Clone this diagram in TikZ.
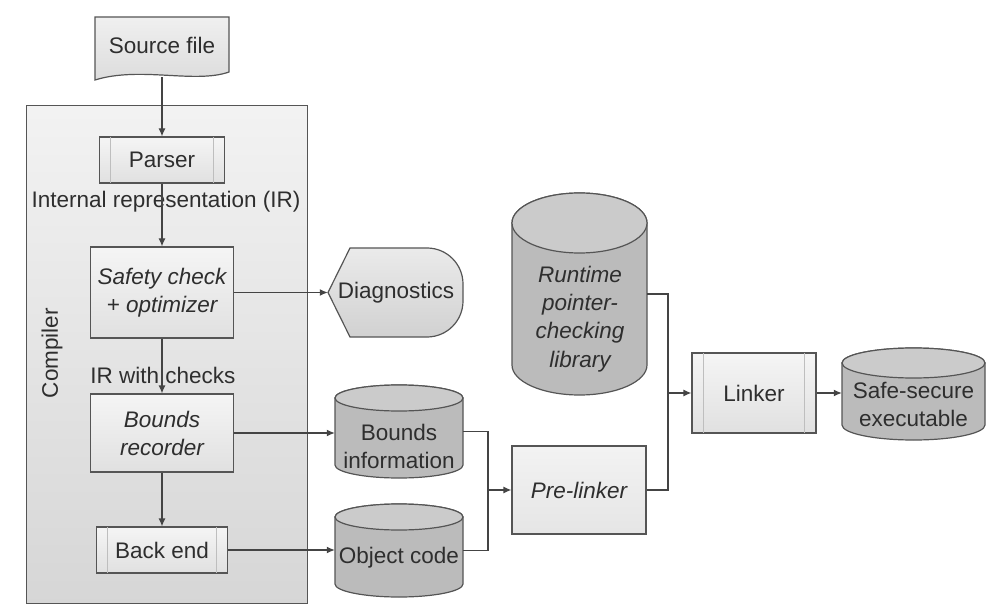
\documentclass[tikz,border=0pt]{standalone}
\usepackage{fontspec}
\setmainfont{Liberation Sans}
\usetikzlibrary{arrows.meta,calc}
\definecolor{txt}{HTML}{2E2E2E}
\definecolor{edge}{HTML}{555555}
\definecolor{conncol}{HTML}{444444}
\definecolor{cylbody}{HTML}{BBBBBB}
\definecolor{cyltop}{HTML}{CBCBCB}
\definecolor{innerln}{HTML}{BEBEBE}
\newcommand\mycyl[5]{%
  \pgfmathsetmacro\cxr{(#3-#1)/2}%
  \path[cylb] (#1,#4-#5) -- (#1,#2+#5) arc[start angle=180,end angle=360,x radius=\cxr,y radius=#5] -- (#3,#4-#5) arc[start angle=0,end angle=180,x radius=\cxr,y radius=#5] -- cycle;
  \path[cylt] ({(#1+#3)/2},#4-#5) ellipse[x radius=\cxr,y radius=#5];
}
\begin{document}
\begin{tikzpicture}[x=1pt,y=1pt,
  font=\fontsize{22.5}{28}\selectfont, text=txt,
  proc/.style={draw=edge, line width=1.2pt, top color=gray!8, bottom color=gray!24, align=center, inner sep=0pt},
  ghost/.style={draw=none, inner sep=0pt},
  lbl/.style={align=center, inner sep=0pt},
  cylb/.style={fill=cylbody, draw=edge, line width=1.2pt},
  cylt/.style={fill=cyltop, draw=edge, line width=1.2pt},
  conn/.style={draw=conncol, line width=1.2pt},
  arr/.style={conn, -{Latex[length=8pt,width=7pt]}},
  innerl/.style={draw=innerln, line width=0.9pt}]
\useasboundingbox (0,0) rectangle (1006,614);

% compiler frame
\node[draw=edge, line width=1.2pt, top color=gray!10, bottom color=gray!32, minimum width=281, minimum height=498, anchor=south west, inner sep=0pt] (compiler) at (26,10) {};
\node[rotate=90, lbl] (clabel) at (52,261) {Compiler};

% source file (document shape)
\path[draw=edge, line width=1.2pt, top color=gray!12, bottom color=gray!28]
  (95,597) -- (229,597) -- (229,542) .. controls (195,530) and (140,548) .. (95,534) -- cycle;
\node[ghost, minimum width=134, minimum height=60] (src) at (162,567) {};
\node[lbl] (srctext) at (162,569) {Source file};

% compiler stages
\node[proc, minimum width=125, minimum height=46] (parser) at (162,454) {Parser};
\node[proc, minimum width=143, minimum height=91, font=\fontsize{22.5}{28}\selectfont\itshape] (safety) at (162,321.5) {Safety check\\+ optimizer};
\node[proc, minimum width=143, minimum height=78, font=\fontsize{22.5}{28}\selectfont\itshape] (brec) at (162,181) {Bounds\\recorder};
\node[proc, minimum width=131, minimum height=46] (backend) at (162,64) {Back end};
\node[lbl] (irl) at (166,412) {Internal representation (IR)};
\node[lbl] (irc) at (163,239) {IR with checks};

% diagnostics (display shape)
\path[draw=edge, line width=1.2pt, top color=gray!16, bottom color=gray!36]
  (328,321.5) -- (350,366) -- (427,366) arc[start angle=90,end angle=0,radius=36] -- (463,313) arc[start angle=0,end angle=-90,radius=36] -- (350,277) -- cycle;
\node[ghost, minimum width=135, minimum height=89] (diag) at (395.5,321.5) {};
\node[lbl] (diagtext) at (396,321) {Diagnostics};

% cylinders
\mycyl{335}{136}{463}{229}{13}
\node[ghost, minimum width=128, minimum height=93] (binfo) at (399,182.5) {};
\node[lbl] (binfotext) at (399,168) {Bounds\\information};

\mycyl{335}{17}{463}{110}{13}
\node[ghost, minimum width=128, minimum height=93] (ocode) at (399,63.5) {};
\node[lbl] (ocodetext) at (399,56) {Object code};

\mycyl{512}{219}{647}{421}{30}
\node[ghost, minimum width=135, minimum height=202] (rtlib) at (579.5,320) {};
\node[lbl, font=\fontsize{22.5}{28.3}\selectfont\itshape] (rtlibtext) at (580,295) {Runtime\\pointer-\\checking\\library};

\mycyl{842}{174}{985}{266}{15}
\node[ghost, minimum width=143, minimum height=92] (safe) at (913.5,220) {};
\node[lbl] (safetext) at (913.5,210) {Safe-secure\\executable};

% pre-linker and linker
\node[proc, minimum width=134, minimum height=88, top color=gray!10, bottom color=gray!20, font=\fontsize{22.5}{28}\selectfont\itshape] (prelink) at (579,124) {Pre-linker};
\node[proc, minimum width=124, minimum height=80] (linker) at (754,221) {Linker};

% inner lines of predefined-process boxes
\foreach \n in {parser,backend,linker}{
  \draw[innerl] ([xshift=12pt,yshift=-1pt]\n.north west) -- ([xshift=12pt,yshift=1pt]\n.south west);
  \draw[innerl] ([xshift=-12pt,yshift=-1pt]\n.north east) -- ([xshift=-12pt,yshift=1pt]\n.south east);
}

% connectors
\draw[arr] (src) -- (parser);
\draw[arr] (parser) -- (safety);
\draw[arr] (safety) -- (brec);
\draw[arr] (brec) -- (backend);
\draw[arr] (safety) -- (diag);
\draw[arr] (brec.east) -- (brec.east -| binfo.west);
\draw[arr] (backend.east) -- (backend.east -| ocode.west);
\coordinate (j1) at (488,124);
\draw[conn] (binfo.east) -| (j1);
\draw[conn] (ocode.east) -| (j1);
\draw[arr] (j1) -- (prelink.west);
\coordinate (j2) at (668,221);
\draw[conn] (rtlib.east) -| (j2);
\draw[conn] (prelink.east) -| (j2);
\draw[arr] (j2) -- (linker.west);
\draw[arr] (linker.east) -- (linker.east -| safe.west);
\end{tikzpicture}
\end{document}
